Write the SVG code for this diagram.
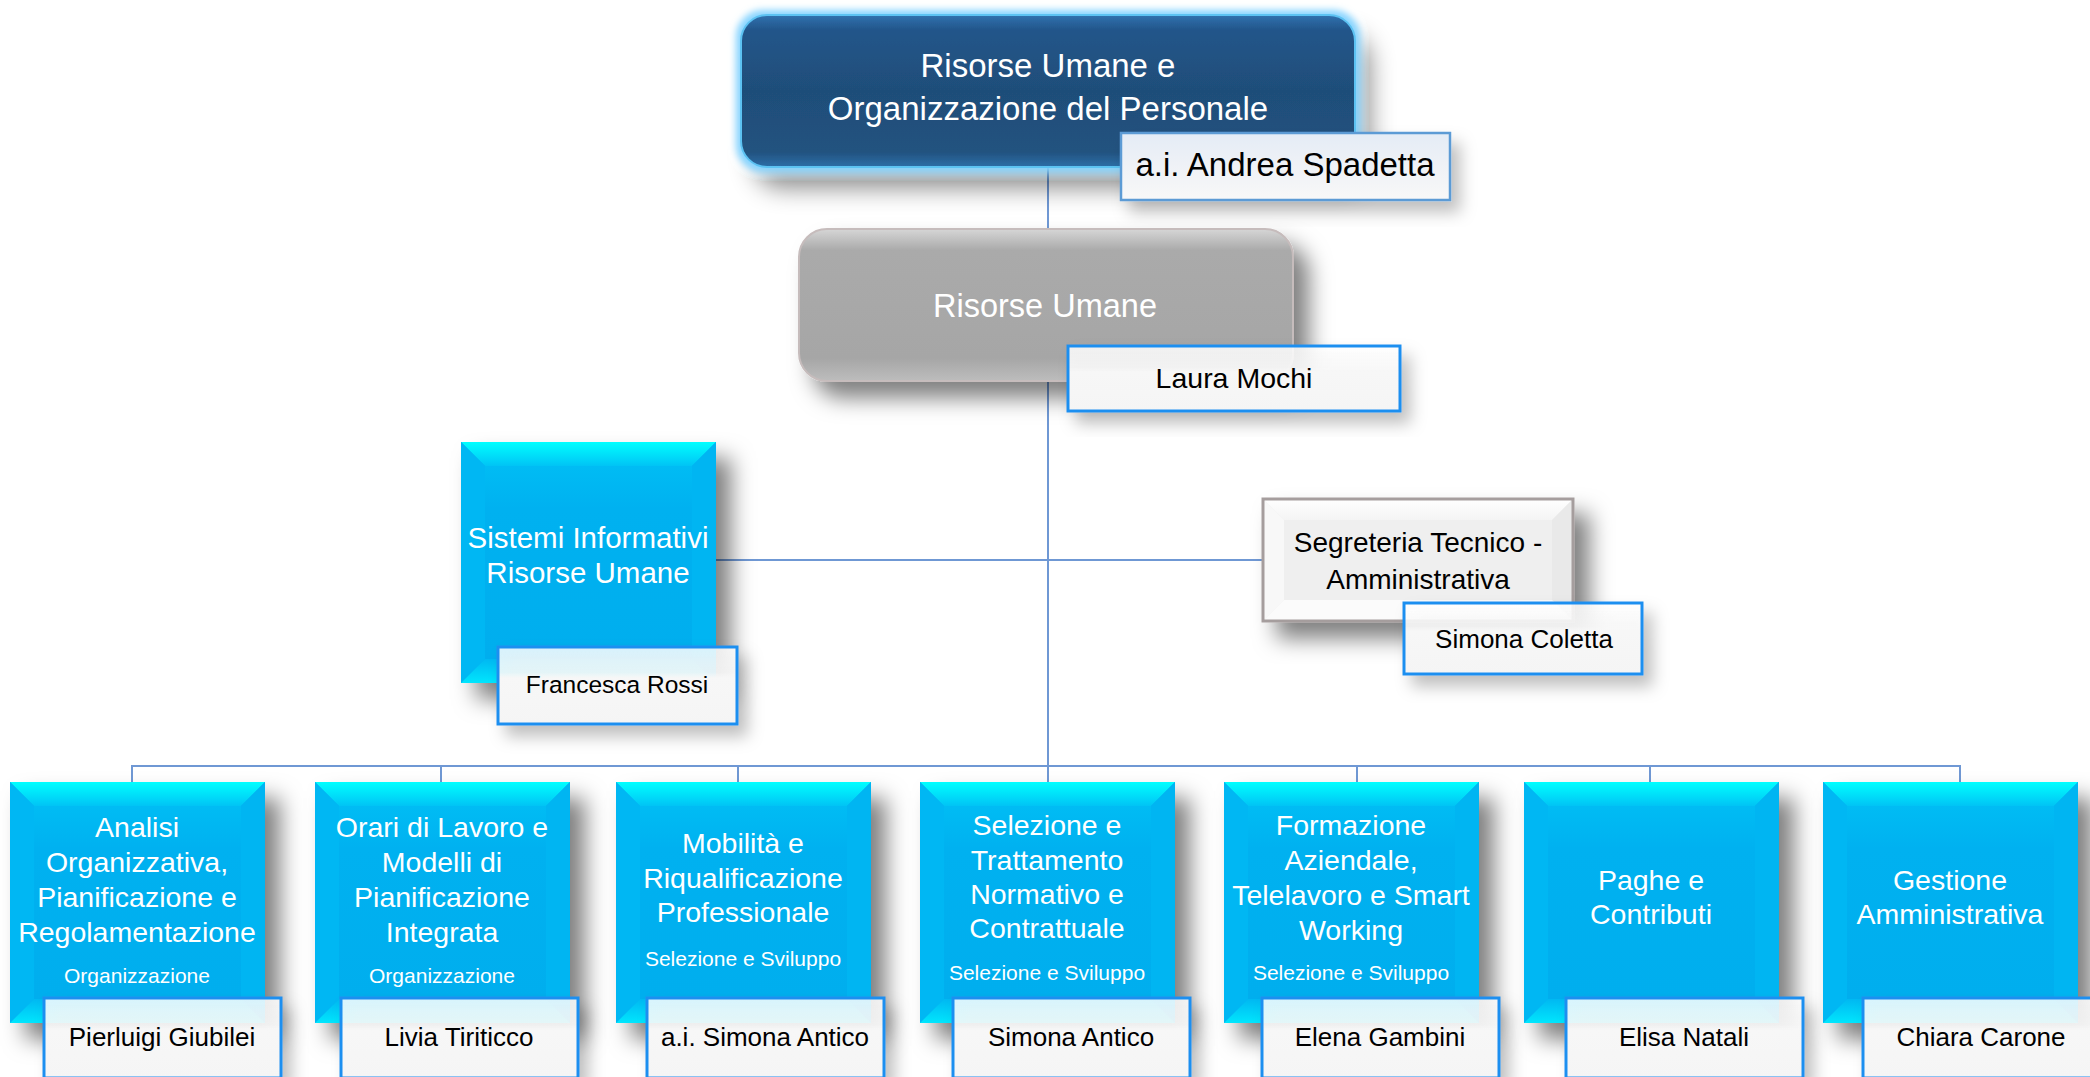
<svg xmlns="http://www.w3.org/2000/svg" width="2090" height="1077" viewBox="0 0 2090 1077">
<style>
.t{font-family:"Liberation Sans",Arial,sans-serif;text-anchor:middle}
.w{fill:#ffffff}
.k{fill:#000000}
.u{font-size:28.5px}
.s{font-size:21px}
.n{font-size:26px}
.nb{fill:url(#nameFill);stroke:#1e8ff0;stroke-width:3}
.ln{stroke:#6f98d4;stroke-width:2;fill:none}
</style>
<defs>
<linearGradient id="cyTop" x1="0" y1="0" x2="0" y2="1"><stop offset="0" stop-color="#00ffff"/><stop offset="1" stop-color="#00c4f5"/></linearGradient>
<linearGradient id="cyBot" x1="0" y1="0" x2="0" y2="1"><stop offset="0" stop-color="#00b8f2"/><stop offset="1" stop-color="#00e6fd"/></linearGradient>
<linearGradient id="cyMid" x1="0" y1="0" x2="0" y2="1"><stop offset="0" stop-color="#00bcf4"/><stop offset="0.22" stop-color="#00b1f0"/><stop offset="1" stop-color="#00aeee"/></linearGradient>
<linearGradient id="nameFill" x1="0" y1="0" x2="0" y2="1"><stop offset="0" stop-color="#ffffff" stop-opacity="0.84"/><stop offset="0.33" stop-color="#fafafa" stop-opacity="0.9"/><stop offset="0.4" stop-color="#f7f7f7"/><stop offset="1" stop-color="#f5f5f5"/></linearGradient>
<linearGradient id="topName" x1="0" y1="0" x2="0" y2="1"><stop offset="0" stop-color="#e4ecf6"/><stop offset="0.45" stop-color="#eef1f6"/><stop offset="1" stop-color="#f8f8f8"/></linearGradient>
<linearGradient id="navy" x1="0" y1="0" x2="0" y2="1"><stop offset="0" stop-color="#3172b0"/><stop offset="0.1" stop-color="#22558a"/><stop offset="0.5" stop-color="#1f4e79"/><stop offset="0.9" stop-color="#21527f"/><stop offset="1" stop-color="#2e6ea8"/></linearGradient>
<linearGradient id="gray" x1="0" y1="0" x2="0" y2="1"><stop offset="0" stop-color="#d6d6d6"/><stop offset="0.14" stop-color="#aaaaaa"/><stop offset="0.85" stop-color="#a6a6a6"/><stop offset="1" stop-color="#bdbdbd"/></linearGradient>
<linearGradient id="wTop" x1="0" y1="0" x2="0" y2="1"><stop offset="0" stop-color="#ffffff"/><stop offset="1" stop-color="#f4f4f4"/></linearGradient>
<filter id="sh" x="-20%" y="-20%" width="155%" height="155%"><feDropShadow dx="15" dy="16" stdDeviation="11" flood-color="#000" flood-opacity="0.5"/></filter>
<filter id="shs" x="-20%" y="-30%" width="150%" height="170%"><feDropShadow dx="9" dy="11" stdDeviation="8" flood-color="#000" flood-opacity="0.25"/></filter>
<filter id="glow" x="-20%" y="-40%" width="145%" height="190%">
<feMorphology in="SourceAlpha" operator="dilate" radius="4" result="d"/>
<feGaussianBlur in="d" stdDeviation="3.5" result="db"/>
<feFlood flood-color="#86d4ff"/>
<feComposite in2="db" operator="in" result="g"/>
<feGaussianBlur in="SourceAlpha" stdDeviation="12" result="sb"/>
<feOffset in="sb" dx="14" dy="20" result="so"/>
<feFlood flood-color="#000" flood-opacity="0.45"/>
<feComposite in2="so" operator="in" result="s"/>
<feMerge><feMergeNode in="s"/><feMergeNode in="g"/><feMergeNode in="SourceGraphic"/></feMerge>
</filter>
<symbol id="cy" overflow="visible">
<rect width="255" height="241" fill="#00b0f0"/>
<rect x="24" y="24" width="207" height="193" fill="url(#cyMid)"/>
<polygon points="0,0 255,0 231,24 24,24" fill="url(#cyTop)"/>
<polygon points="0,0 24,24 24,217 0,241" fill="#00b7f3"/>
<polygon points="255,0 255,241 231,217 231,24" fill="#00b5f2"/>
<polygon points="0,241 24,217 231,217 255,241" fill="url(#cyBot)"/>
</symbol>
</defs>
<rect width="2090" height="1077" fill="#ffffff"/>

<g id="connectors">
<line class="ln" x1="1048" y1="165" x2="1048" y2="767"/>
<line class="ln" x1="715" y1="560" x2="1264" y2="560"/>
<polyline class="ln" points="132,783 132,766 1960,766 1960,783"/>
<line class="ln" x1="441" y1="766" x2="441" y2="783"/>
<line class="ln" x1="738" y1="766" x2="738" y2="783"/>
<line class="ln" x1="1048" y1="766" x2="1048" y2="783"/>
<line class="ln" x1="1357" y1="766" x2="1357" y2="783"/>
<line class="ln" x1="1650" y1="766" x2="1650" y2="783"/>
</g>

<g id="node-root">
<rect x="741" y="15" width="614" height="152" rx="26" fill="url(#navy)" stroke="#5cc2f2" stroke-width="2" filter="url(#glow)"/>
<text class="t w" font-size="33" x="1048" y="77">Risorse Umane e</text>
<text class="t w" font-size="33" x="1048" y="120">Organizzazione del Personale</text>
<rect x="1121" y="133" width="329" height="67" fill="url(#topName)" stroke="#5b9bd5" stroke-width="2.5" filter="url(#shs)"/>
<text class="t k" font-size="33" x="1285" y="176">a.i. Andrea Spadetta</text>
</g>

<g id="node-ru">
<rect x="799" y="229" width="494" height="152" rx="28" fill="url(#gray)" stroke="#c6bcbc" stroke-width="2" filter="url(#sh)"/>
<text class="t w" font-size="32.5" x="1045" y="317">Risorse Umane</text>
<rect class="nb" x="1068" y="346" width="332" height="65" filter="url(#shs)"/>
<text class="t k" font-size="28.5" x="1234" y="388">Laura Mochi</text>
</g>

<g id="node-siru">
<use href="#cy" x="461" y="442" filter="url(#sh)"/>
<text class="t w" font-size="29.5" x="588" y="548">Sistemi Informativi</text>
<text class="t w" font-size="29.5" x="588" y="583">Risorse Umane</text>
<rect class="nb" x="498" y="647" width="239" height="77" filter="url(#shs)"/>
<text class="t k" font-size="24.5" x="617" y="693">Francesca Rossi</text>
</g>

<g id="node-segreteria">
<g filter="url(#sh)">
<rect x="1263" y="499" width="310" height="122" fill="#efefef"/>
<polygon points="1263,499 1573,499 1552,520 1284,520" fill="url(#wTop)"/>
<polygon points="1263,499 1284,520 1284,600 1263,621" fill="#f8f8f8"/>
<polygon points="1573,499 1573,621 1552,600 1552,520" fill="#e9e9e9"/>
<polygon points="1263,621 1284,600 1552,600 1573,621" fill="#fbfbfb"/>
<rect x="1263" y="499" width="310" height="122" fill="none" stroke="#a59d9d" stroke-width="3"/>
</g>
<text class="t k" font-size="28" x="1418" y="552">Segreteria Tecnico -</text>
<text class="t k" font-size="28" x="1418" y="589">Amministrativa</text>
<rect class="nb" x="1404" y="603" width="238" height="71" filter="url(#shs)"/>
<text class="t k" font-size="26" x="1524" y="648">Simona Coletta</text>
</g>

<g id="node-analisi">
<use href="#cy" x="10" y="782" filter="url(#sh)"/>
<text class="t w u" x="137" y="837">Analisi</text>
<text class="t w u" x="137" y="872">Organizzativa,</text>
<text class="t w u" x="137" y="907">Pianificazione e</text>
<text class="t w u" x="137" y="942">Regolamentazione</text>
<text class="t w s" x="137" y="983">Organizzazione</text>
<rect class="nb" x="44" y="998" width="237" height="80" filter="url(#shs)"/>
<text class="t k n" x="162" y="1046">Pierluigi Giubilei</text>
</g>

<g id="node-orari">
<use href="#cy" x="315" y="782" filter="url(#sh)"/>
<text class="t w u" x="442" y="837">Orari di Lavoro e</text>
<text class="t w u" x="442" y="872">Modelli di</text>
<text class="t w u" x="442" y="907">Pianificazione</text>
<text class="t w u" x="442" y="942">Integrata</text>
<text class="t w s" x="442" y="983">Organizzazione</text>
<rect class="nb" x="341" y="998" width="237" height="80" filter="url(#shs)"/>
<text class="t k n" x="459" y="1046">Livia Tiriticco</text>
</g>

<g id="node-mobilita">
<use href="#cy" x="616" y="782" filter="url(#sh)"/>
<text class="t w u" x="743" y="853">Mobilità e</text>
<text class="t w u" x="743" y="888">Riqualificazione</text>
<text class="t w u" x="743" y="922">Professionale</text>
<text class="t w s" x="743" y="966">Selezione e Sviluppo</text>
<rect class="nb" x="647" y="998" width="237" height="80" filter="url(#shs)"/>
<text class="t k n" x="765" y="1046">a.i. Simona Antico</text>
</g>

<g id="node-selezione">
<use href="#cy" x="920" y="782" filter="url(#sh)"/>
<text class="t w u" x="1047" y="835">Selezione e</text>
<text class="t w u" x="1047" y="870">Trattamento</text>
<text class="t w u" x="1047" y="904">Normativo e</text>
<text class="t w u" x="1047" y="938">Contrattuale</text>
<text class="t w s" x="1047" y="980">Selezione e Sviluppo</text>
<rect class="nb" x="953" y="998" width="237" height="80" filter="url(#shs)"/>
<text class="t k n" x="1071" y="1046">Simona Antico</text>
</g>

<g id="node-formazione">
<use href="#cy" x="1224" y="782" filter="url(#sh)"/>
<text class="t w u" x="1351" y="835">Formazione</text>
<text class="t w u" x="1351" y="870">Aziendale,</text>
<text class="t w u" x="1351" y="905">Telelavoro e Smart</text>
<text class="t w u" x="1351" y="940">Working</text>
<text class="t w s" x="1351" y="980">Selezione e Sviluppo</text>
<rect class="nb" x="1262" y="998" width="237" height="80" filter="url(#shs)"/>
<text class="t k n" x="1380" y="1046">Elena Gambini</text>
</g>

<g id="node-paghe">
<use href="#cy" x="1524" y="782" filter="url(#sh)"/>
<text class="t w u" x="1651" y="890">Paghe e</text>
<text class="t w u" x="1651" y="924">Contributi</text>
<rect class="nb" x="1566" y="998" width="237" height="80" filter="url(#shs)"/>
<text class="t k n" x="1684" y="1046">Elisa Natali</text>
</g>

<g id="node-gestione">
<use href="#cy" x="1823" y="782" filter="url(#sh)"/>
<text class="t w u" x="1950" y="890">Gestione</text>
<text class="t w u" x="1950" y="924">Amministrativa</text>
<rect class="nb" x="1863" y="998" width="237" height="80" filter="url(#shs)"/>
<text class="t k n" x="1981" y="1046">Chiara Carone</text>
</g>
</svg>
